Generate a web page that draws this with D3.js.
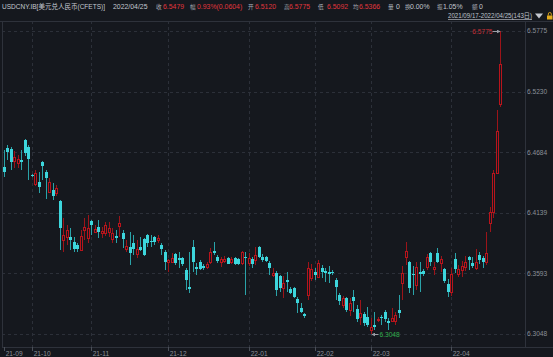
<!DOCTYPE html>
<html><head><meta charset="utf-8">
<script src="https://cdn.jsdelivr.net/npm/d3@7"></script>
<style>html,body{margin:0;padding:0;background:#15181e;overflow:hidden}</style>
</head><body><svg id="c" width="553" height="357"></svg>
<script>
// ---- DATA (USDCNY.IB daily, 2021/09/17 - 2022/04/25, 143 days) ----
const opens = [6.4551,6.4722,6.4713,6.4605,6.4587,6.4614,6.4794,6.4731,6.4479,6.4398,6.4416,6.4596,6.4506,6.4326,6.4344,6.4317,6.4245,6.3894,6.3921,6.3921,
6.3876,6.3849,6.3804,6.3984,6.3912,6.4065,6.3966,6.4011,6.3957,6.3957,6.3966,6.3903,6.3930,6.4020,6.3957,6.3813,6.3831,6.3867,6.3768,6.3831,
6.3903,6.3939,6.3885,6.3921,6.3894,6.3849,6.3786,6.3696,6.3696,6.3768,6.3732,6.3732,6.3624,6.3471,6.3831,6.3651,6.3696,6.3660,6.3651,6.3696,
6.3795,6.3741,6.3696,6.3705,6.3732,6.3696,6.3732,6.3723,6.3687,6.3741,6.3687,6.3723,6.3714,6.3831,6.3741,6.3741,6.3687,6.3579,6.3597,6.3570,
6.3462,6.3534,6.3453,6.3462,6.3363,6.3282,6.3228,6.3399,6.3552,6.3606,6.3561,6.3642,6.3615,6.3606,6.3606,6.3534,6.3399,6.3309,6.3372,6.3264,
6.3381,6.3273,6.3201,6.3228,6.3201,6.3084,6.3129,6.3174,6.3201,6.3246,6.3165,6.3165,6.3165,6.3264,6.3507,6.3741,6.3696,6.3588,6.3489,6.3606,
6.3615,6.3651,6.3777,6.3633,6.3777,6.3687,6.3633,6.3498,6.3426,6.3723,6.3588,6.3624,6.3651,6.3741,6.3687,6.3642,6.3759,6.3732,6.3696,6.4047,
6.4146,6.4497,6.5120];
const highs = [6.4704,6.4749,6.4731,6.4695,6.4659,6.4704,6.4803,6.4749,6.4488,6.4524,6.4506,6.4605,6.4524,6.4452,6.4407,6.4389,6.4254,6.4092,6.4029,6.4002,
6.3921,6.3867,6.3984,6.4092,6.4119,6.4074,6.4029,6.4074,6.4011,6.4056,6.4056,6.4002,6.3984,6.4110,6.3984,6.3894,6.3966,6.3939,6.3894,6.3921,
6.3912,6.3948,6.3939,6.3930,6.3939,6.3867,6.3804,6.3723,6.3777,6.3777,6.3786,6.3741,6.3642,6.3786,6.3894,6.3687,6.3714,6.3678,6.3696,6.3822,
6.3876,6.3759,6.3741,6.3750,6.3741,6.3741,6.3741,6.3732,6.3795,6.3786,6.3777,6.3741,6.3831,6.3840,6.3768,6.3750,6.3705,6.3642,6.3615,6.3579,
6.3570,6.3606,6.3471,6.3471,6.3381,6.3327,6.3237,6.3696,6.3678,6.3642,6.3714,6.3669,6.3642,6.3660,6.3624,6.3552,6.3417,6.3390,6.3381,6.3372,
6.3444,6.3309,6.3354,6.3246,6.3291,6.3192,6.3246,6.3201,6.3219,6.3264,6.3192,6.3282,6.3246,6.3399,6.3660,6.3876,6.3705,6.3660,6.3696,6.3696,
6.3633,6.3768,6.3786,6.3696,6.3822,6.3750,6.3642,6.3543,6.3642,6.3777,6.3669,6.3705,6.3750,6.3750,6.3741,6.3813,6.3786,6.3750,6.3966,6.4191,
6.4524,6.5064,6.5775];
const lows = [6.4461,6.4614,6.4524,6.4542,6.4542,6.4524,6.4650,6.4434,6.4461,6.4380,6.4317,6.4434,6.4263,6.4317,6.4254,6.4290,6.3804,6.3786,6.3849,6.3804,
6.3786,6.3786,6.3795,6.3894,6.3867,6.3939,6.3957,6.3912,6.3912,6.3930,6.3921,6.3867,6.3867,6.3921,6.3822,6.3786,6.3669,6.3759,6.3732,6.3795,
6.3750,6.3831,6.3831,6.3849,6.3867,6.3759,6.3624,6.3606,6.3687,6.3669,6.3642,6.3660,6.3444,6.3417,6.3606,6.3579,6.3624,6.3624,6.3633,6.3678,
6.3759,6.3687,6.3651,6.3687,6.3678,6.3678,6.3669,6.3669,6.3669,6.3399,6.3660,6.3642,6.3669,6.3732,6.3696,6.3696,6.3579,6.3561,6.3390,6.3426,
6.3372,6.3426,6.3408,6.3372,6.3237,6.3237,6.3192,6.3354,6.3525,6.3534,6.3552,6.3552,6.3516,6.3507,6.3579,6.3354,6.3309,6.3282,6.3246,6.3210,
6.3246,6.3156,6.3129,6.3120,6.3111,6.3048,6.3084,6.3156,6.3129,6.3156,6.3084,6.3156,6.3129,6.3192,6.3354,6.3669,6.3417,6.3399,6.3444,6.3426,
6.3570,6.3624,6.3660,6.3579,6.3687,6.3606,6.3507,6.3381,6.3390,6.3597,6.3561,6.3561,6.3615,6.3624,6.3642,6.3624,6.3678,6.3642,6.3669,6.3966,
6.4092,6.4490,6.5092];
const closes = [6.4506,6.4686,6.4596,6.4641,6.4623,6.4596,6.4677,6.4623,6.4470,6.4497,6.4371,6.4560,6.4452,6.4416,6.4290,6.4362,6.4002,6.3939,6.3984,6.3894,
6.3813,6.3813,6.3930,6.4011,6.4002,6.4029,6.3993,6.3966,6.3975,6.4029,6.4002,6.3957,6.3912,6.4047,6.3903,6.3840,6.3777,6.3813,6.3813,6.3804,
6.3759,6.3867,6.3876,6.3876,6.3912,6.3813,6.3696,6.3714,6.3732,6.3687,6.3714,6.3678,6.3534,6.3453,6.3696,6.3633,6.3633,6.3642,6.3678,6.3786,
6.3777,6.3705,6.3723,6.3723,6.3678,6.3723,6.3678,6.3678,6.3786,6.3732,6.3732,6.3678,6.3759,6.3741,6.3714,6.3705,6.3642,6.3597,6.3444,6.3462,
6.3507,6.3516,6.3417,6.3381,6.3327,6.3246,6.3210,6.3642,6.3633,6.3579,6.3687,6.3606,6.3597,6.3588,6.3597,6.3471,6.3345,6.3372,6.3264,6.3327,
6.3345,6.3183,6.3237,6.3147,6.3129,6.3111,6.3111,6.3183,6.3192,6.3183,6.3147,6.3192,6.3219,6.3237,6.3597,6.3795,6.3462,6.3579,6.3651,6.3588,
6.3588,6.3741,6.3696,6.3651,6.3696,6.3723,6.3525,6.3426,6.3588,6.3633,6.3633,6.3660,6.3696,6.3714,6.3660,6.3696,6.3714,6.3696,6.3777,6.4146,
6.4497,6.4875,6.5479];
const monthLabels = ["21-09","21-10","21-11","21-12","22-01","22-02","22-03","22-04"];
const monthStartIndex = [0, 8, 25, 47, 70, 89, 105, 128];
const priceTicks = [6.3048, 6.3593, 6.4139, 6.4684, 6.5230, 6.5775];
const headerItems = [
  ["USDCNY.IB[美元兑人民币(CFETS)]","n"],["2022/04/25","n"],
  ["收","l"],["6.5479","r"],["幅","l"],["0.93%(0.0604)","r"],["开","l"],["6.5120","r"],
  ["高","l"],["6.5775","r"],["低","l"],["6.5092","r"],["均","l"],["6.5366","r"],
  ["量","l"],["0","n"],["换","l"],["0.00%","n"],["振","l"],["1.05%","n"],["额","l"],["0","n"]
];
const headerX = [2,113,156,163,190,197,248,255,284,289,318,327,353,359,388,396,405,410,437,443,472,479];
const rangeText = "2021/09/17-2022/04/25(143日)";

// ---- DRAW ----
const W = 553, H = 357;
const BG = "#15181e", RED = "#b8141c", RED_W = "#9c1419", CY = "#3dd6dc", CY_W = "#2aa3a9";
const GRID = "#2c3039", BORDER = "#2e323b", AX = "#8b9099";
const FONT = "'Liberation Sans', Arial, 'Noto Sans CJK SC', sans-serif";
const svg = d3.select("#c");
svg.append("rect").attr("width", W).attr("height", H).attr("fill", BG);

const P = {left: 2, right: 525, top: 21, bottom: 347};
const x = d3.scaleLinear().domain([0, opens.length - 1]).range([4, 500]);
const y = d3.scaleLinear().domain([priceTicks[0], priceTicks[priceTicks.length - 1]]).range([334, 31]);
const px = i => Math.round(x(i)) + 0.5;

// grid
const g = svg.append("g");
g.selectAll(".hg").data(priceTicks).enter().append("line")
  .attr("x1", P.left).attr("x2", P.right)
  .attr("y1", d => Math.round(y(d)) + 0.5).attr("y2", d => Math.round(y(d)) + 0.5)
  .attr("stroke", GRID).attr("stroke-dasharray", "3,3");
g.selectAll(".vg").data(monthStartIndex.slice(1)).enter().append("line")
  .attr("x1", d => px(d)).attr("x2", d => px(d))
  .attr("y1", P.top).attr("y2", P.bottom)
  .attr("stroke", GRID).attr("stroke-dasharray", "3,3");

// borders
svg.append("line").attr("x1", 0).attr("x2", W).attr("y1", P.top + 0.5).attr("y2", P.top + 0.5).attr("stroke", BORDER);
svg.append("line").attr("x1", P.left + 0.5).attr("x2", P.left + 0.5).attr("y1", P.top).attr("y2", P.bottom).attr("stroke", BORDER);
svg.append("line").attr("x1", P.right + 0.5).attr("x2", P.right + 0.5).attr("y1", P.top).attr("y2", P.bottom).attr("stroke", BORDER);
svg.append("line").attr("x1", P.left).attr("x2", W).attr("y1", P.bottom + 0.5).attr("y2", P.bottom + 0.5).attr("stroke", BORDER);

// right axis labels
svg.selectAll(".yl").data(priceTicks).enter().append("text")
  .attr("x", 527).attr("y", d => y(d) + 2.3)
  .attr("font-family", FONT).attr("font-size", 6.6).attr("fill", AX)
  .text(d => d3.format(".4f")(d));

// bottom axis
svg.selectAll(".xt").data(monthStartIndex).enter().append("line")
  .attr("x1", d => px(d)).attr("x2", d => px(d)).attr("y1", P.bottom).attr("y2", P.bottom + 4)
  .attr("stroke", "#4a4f58");
svg.selectAll(".xl").data(monthStartIndex).enter().append("text")
  .attr("x", d => px(d) + 1.2).attr("y", 355.5)
  .attr("font-family", FONT).attr("font-size", 6.6).attr("fill", AX)
  .text((d, i) => monthLabels[i]);

// candles
const data = opens.map((o, i) => ({i, o, h: highs[i], l: lows[i], c: closes[i]}));
const cg = svg.append("g");
data.forEach(d => {
  const cx = px(d.i);
  const up = d.c > d.o;
  const yt = Math.round(y(Math.max(d.o, d.c)));
  const yb = Math.round(y(Math.min(d.o, d.c)));
  const yh = Math.round(y(d.h)), yl = Math.round(y(d.l));
  if (up) {
    if (yh < yt) cg.append("line").attr("x1", cx).attr("x2", cx).attr("y1", yh).attr("y2", yt).attr("stroke", RED_W);
    if (yl > yb) cg.append("line").attr("x1", cx).attr("x2", cx).attr("y1", yb + 1).attr("y2", yl).attr("stroke", RED_W);
    cg.append("rect").attr("x", cx - 1).attr("y", yt + 0.5).attr("width", 2).attr("height", Math.max(yb - yt, 1))
      .attr("fill", BG).attr("stroke", RED).attr("stroke-width", 1);
  } else {
    cg.append("line").attr("x1", cx).attr("x2", cx).attr("y1", yh).attr("y2", yl).attr("stroke", CY_W);
    cg.append("rect").attr("x", cx - 1.5).attr("y", yt).attr("width", 3).attr("height", Math.max(yb - yt, 1))
      .attr("fill", CY);
  }
});

// max / min annotations
const iMax = d3.maxIndex(highs), iMin = d3.minIndex(lows);
const ann = svg.append("g").attr("font-family", FONT).attr("font-size", 6.6);
svg.append("defs").html('<marker id="ah" viewBox="0 0 6 6" refX="5" refY="3" markerWidth="4" markerHeight="4" orient="auto"><path d="M0,0L6,3L0,6z" fill="#9a9ea6"/></marker>');
const yMax = Math.round(y(highs[iMax])) + 0.5;
ann.append("line").attr("x1", px(iMax) - 8).attr("x2", px(iMax) - 0.5).attr("y1", yMax).attr("y2", yMax)
  .attr("stroke", "#9a9ea6").attr("marker-end", "url(#ah)");
ann.append("text").attr("x", px(iMax) - 8).attr("y", yMax + 2.3).attr("text-anchor", "end")
  .attr("fill", "#c83038").text(d3.format(".4f")(highs[iMax]));
const yMin = Math.round(y(lows[iMin])) + 0.5;
ann.append("line").attr("x1", px(iMin) + 7).attr("x2", px(iMin) + 0.5).attr("y1", yMin).attr("y2", yMin)
  .attr("stroke", "#9a9ea6").attr("marker-end", "url(#ah)");
ann.append("text").attr("x", px(iMin) + 8).attr("y", yMin + 2.3)
  .attr("fill", "#2fae4a").text(d3.format(".4f")(lows[iMin]));

// header
const colors = {n: "#c3c7cf", l: "#a9aeb6", r: "#e0363d"};
const sizes = {n: 6.9, l: 5.6, r: 6.9};
svg.selectAll(".hd").data(headerItems).enter().append("text")
  .attr("x", (d, i) => headerX[i]).attr("y", 9.2)
  .attr("font-family", FONT).attr("font-size", d => sizes[d[1]]).attr("fill", d => colors[d[1]])
  .each(function(d, i) { if (i === 0) d3.select(this).attr("textLength", 103).attr("lengthAdjust", "spacingAndGlyphs"); })
  .text(d => d[0]);
svg.append("text").attr("x", 448).attr("y", 18.3)
  .attr("font-family", FONT).attr("font-size", 6.6).attr("fill", "#bfc3cb")
  .attr("textLength", 84).attr("lengthAdjust", "spacingAndGlyphs")
  .attr("text-decoration", "underline").text(rangeText);
svg.append("path").attr("d", "M535,13.5L543,13.5L539,18.5Z").attr("fill", "#c3c7cf");
// small lock icon
svg.append("rect").attr("x", 547).attr("y", 15.5).attr("width", 5.5).attr("height", 4).attr("fill", "#e2aa1c");
svg.append("path").attr("d", "M548.3,15.5V14a1.5,1.5 0 0 1 3,0V15.5").attr("fill", "none").attr("stroke", "#e2aa1c").attr("stroke-width", 0.9);
</script></body></html>
